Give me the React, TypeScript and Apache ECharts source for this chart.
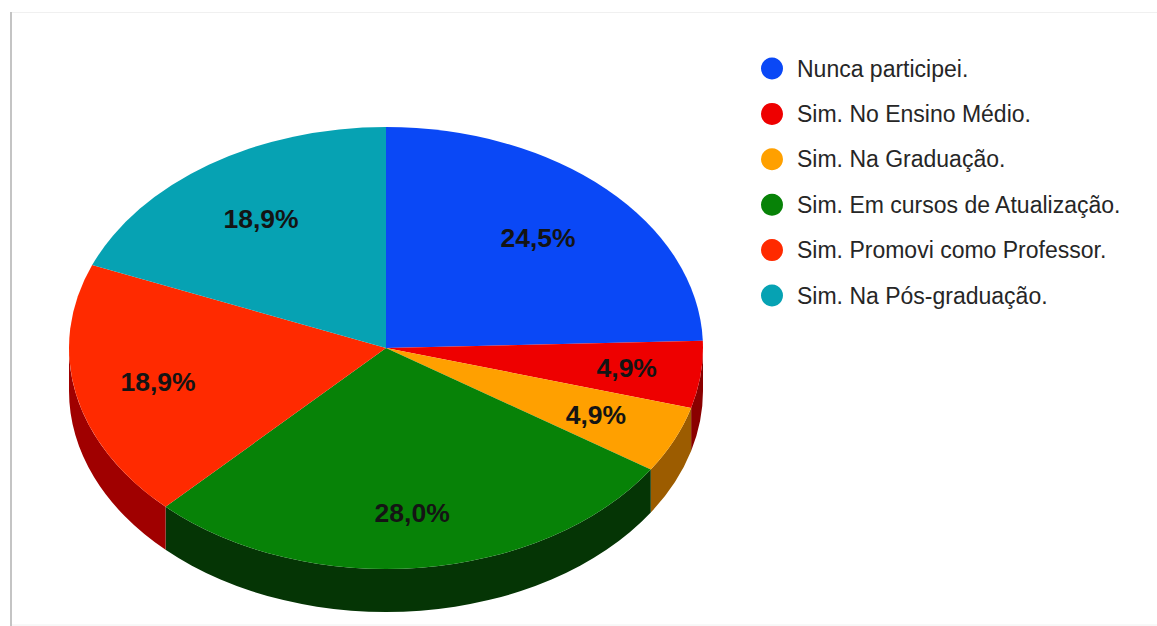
import React, { useEffect, useRef } from "react";
import * as echarts from "echarts";

const categories = [
  "Nunca participei.",
  "Sim. No Ensino Médio.",
  "Sim. Na Graduação.",
  "Sim. Em cursos de Atualização.",
  "Sim. Promovi como Professor.",
  "Sim. Na Pós-graduação.",
];
const shares = [24.5, 4.9, 4.9, 28.0, 18.9, 18.9];
const percentLabels = ["24,5%", "4,9%", "4,9%", "28,0%", "18,9%", "18,9%"];
const topColors = ["#0a48f6", "#ee0000", "#ffa000", "#078207", "#ff2a00", "#06a2b3"];
const sideColors = ["#062c90", "#8a0000", "#9c5c00", "#053505", "#a00000", "#04606a"];
// How far along the radius each percentage sits.
const labelReach = [0.69, 0.765, 0.728, 0.752, 0.735, 0.705];

const CX = 386;
const CY = 348;
const RX = 317;
const RY = 221;
const DEPTH = 43;

const total = shares.reduce((a, b) => a + b, 0);

// Angles run clockwise from twelve o'clock, in radians.
const rimX = (a: number) => CX + RX * Math.sin(a);
const rimY = (a: number) => CY - RY * Math.cos(a);

function sliceStart(index: number) {
  let sum = 0;
  for (let i = 0; i < index; i++) sum += shares[i];
  return (sum / total) * Math.PI * 2;
}

function topPath(a0: number, a1: number) {
  const large = a1 - a0 > Math.PI ? 1 : 0;
  return `M${CX} ${CY}L${rimX(a0)} ${rimY(a0)}A${RX} ${RY} 0 ${large} 1 ${rimX(a1)} ${rimY(a1)}Z`;
}

// The wall is only visible along the front half of the rim.
function wallPath(a0: number, a1: number) {
  const from = Math.max(a0, Math.PI / 2);
  const to = Math.min(a1, (Math.PI * 3) / 2);
  if (to <= from) return null;
  return (
    `M${rimX(from)} ${rimY(from)}A${RX} ${RY} 0 0 1 ${rimX(to)} ${rimY(to)}` +
    `L${rimX(to)} ${rimY(to) + DEPTH}A${RX} ${RY} 0 0 0 ${rimX(from)} ${rimY(from) + DEPTH}Z`
  );
}

function renderSlice(params: any, api: any) {
  const i = params.seriesIndex;
  const a0 = sliceStart(i);
  const a1 = a0 + (api.value(0) / total) * Math.PI * 2;
  const mid = (a0 + a1) / 2;
  const children: any[] = [];
  const wall = wallPath(a0, a1);
  if (wall) {
    children.push({
      type: "path",
      shape: { pathData: wall },
      style: { fill: sideColors[i] },
    });
  }
  children.push({
    type: "path",
    shape: { pathData: topPath(a0, a1) },
    style: { fill: topColors[i] },
  });
  children.push({
    type: "text",
    z2: 10,
    style: {
      text: percentLabels[i],
      x: CX + RX * labelReach[i] * Math.sin(mid),
      y: CY - RY * labelReach[i] * Math.cos(mid),
      align: "center",
      verticalAlign: "middle",
      fontFamily: "Liberation Sans",
      fontSize: 26.5,
      fontWeight: "bold",
      fill: "#141414",
    },
  });
  return { type: "group", children };
}

export default function App() {
  const ref = useRef<HTMLDivElement>(null);

  useEffect(() => {
    const chart = echarts.init(ref.current!, null, { renderer: "svg" });
    chart.setOption({
      animation: false,
      backgroundColor: "#ffffff",
      color: topColors,
      legend: {
        orient: "vertical",
        left: 761,
        top: 57,
        padding: 0,
        itemWidth: 22,
        itemHeight: 22,
        itemGap: 22.4,
        icon: "circle",
        selectedMode: false,
        data: categories,
        textStyle: {
          fontFamily: "Liberation Sans",
          fontSize: 23,
          color: "#262626",
          padding: [0, 0, 0, 9],
        },
      },
      graphic: [
        {
          type: "line",
          silent: true,
          shape: { x1: 11, y1: 12, x2: 11, y2: 626 },
          style: { stroke: "#c4c4c4", lineWidth: 2 },
        },
        {
          type: "line",
          silent: true,
          shape: { x1: 12, y1: 12.5, x2: 1157, y2: 12.5 },
          style: { stroke: "#f0f0f0", lineWidth: 1 },
        },
        {
          type: "line",
          silent: true,
          shape: { x1: 12, y1: 625, x2: 1157, y2: 625 },
          style: { stroke: "#f0f0f0", lineWidth: 1 },
        },
      ],
      series: categories.map((name, i) => ({
        type: "custom",
        name,
        coordinateSystem: "none",
        silent: true,
        clip: false,
        itemStyle: { color: topColors[i] },
        renderItem: renderSlice,
        data: [[shares[i]]],
      })),
    });
    return () => chart.dispose();
  }, []);

  return (
    <div
      ref={ref}
      style={{ position: "absolute", left: 0, top: 0, width: 1157, height: 626 }}
    />
  );
}
